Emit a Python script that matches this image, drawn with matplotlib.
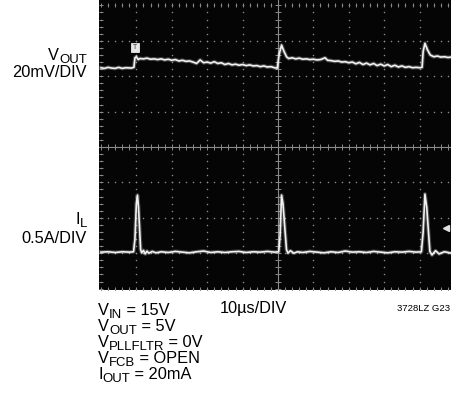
import matplotlib as mpl
import matplotlib.pyplot as plt
import numpy as np
from matplotlib.patches import Rectangle
from matplotlib.transforms import IdentityTransform

mpl.rcParams['font.family'] = ['Liberation Sans', 'DejaVu Sans']

# scope traces, in divisions (10 div across, 8 div up)
vout_t = [0.00, 0.10, 0.20, 0.30, 0.40, 0.50, 0.60, 0.70, 0.85, 0.93, 0.96, 1.00, 1.05, 1.10,
          1.20, 1.30, 1.40, 1.50, 1.60, 1.70, 1.80, 1.90, 2.00, 2.10, 2.20, 2.30, 2.40, 2.50,
          2.60, 2.70, 2.80, 2.90, 3.00, 3.10, 3.20, 3.30, 3.40, 3.50, 3.60, 3.70, 3.80, 3.90,
          4.00, 4.10, 4.20, 4.30, 4.40, 4.50, 4.60, 4.70, 4.80, 4.90, 4.98,
          5.03, 5.10, 5.17, 5.24, 5.30, 5.40, 5.50, 5.60, 5.70, 5.80, 5.90, 6.00, 6.10, 6.20,
          6.33, 6.40, 6.50, 6.60, 6.70, 6.80, 6.90, 7.00, 7.10, 7.20, 7.30, 7.40, 7.50, 7.60,
          7.70, 7.80, 7.90, 8.00, 8.10, 8.20, 8.30, 8.40, 8.50, 8.60, 8.70, 8.80, 8.90, 9.00,
          9.07, 9.10, 9.15, 9.22, 9.30, 9.40, 9.50, 9.60, 9.70, 9.80, 9.90, 10.10]
vout_v = [2.24, 2.22, 2.25, 2.23, 2.22, 2.25, 2.22, 2.24, 2.23, 2.25, 2.52, 2.55, 2.47, 2.50,
          2.49, 2.51, 2.48, 2.49, 2.47, 2.49, 2.46, 2.48, 2.45, 2.47, 2.43, 2.45, 2.42, 2.43,
          2.40, 2.36, 2.46, 2.38, 2.40, 2.37, 2.41, 2.36, 2.38, 2.33, 2.36, 2.32, 2.34, 2.31,
          2.33, 2.30, 2.32, 2.29, 2.30, 2.27, 2.29, 2.26, 2.27, 2.24, 2.23,
          2.60, 2.88, 2.70, 2.55, 2.50, 2.52, 2.49, 2.51, 2.48, 2.49, 2.47, 2.48, 2.46, 2.47,
          2.52, 2.45, 2.44, 2.42, 2.43, 2.40, 2.41, 2.38, 2.40, 2.35, 2.39, 2.33, 2.37, 2.32,
          2.36, 2.30, 2.34, 2.29, 2.33, 2.27, 2.31, 2.26, 2.29, 2.25, 2.27, 2.24, 2.25, 2.24,
          2.25, 2.70, 2.93, 2.75, 2.60, 2.55, 2.57, 2.54, 2.55, 2.53, 2.54, 2.54]

il_t = [0.00, 0.20, 0.40, 0.60, 0.80, 0.92, 0.96, 1.00, 1.03, 1.06, 1.12, 1.15, 1.20, 1.25,
        1.30, 1.35, 1.45, 1.55, 1.70, 1.90, 2.10, 2.30, 2.50, 2.70, 2.90, 3.10, 3.30, 3.50,
        3.70, 3.90, 4.10, 4.30, 4.50, 4.70, 4.90, 5.02,
        5.06, 5.10, 5.14, 5.24, 5.28, 5.35, 5.45, 5.55, 5.70, 5.90, 6.10, 6.30, 6.50, 6.70,
        6.90, 7.10, 7.30, 7.50, 7.70, 7.90, 8.10, 8.30, 8.50, 8.70, 8.90, 9.05,
        9.10, 9.15, 9.20, 9.29, 9.35, 9.45, 9.55, 9.70, 9.90, 10.10]
il_v = [-2.97, -2.96, -2.98, -2.96, -2.97, -2.96, -2.60, -1.60, -1.36, -1.70, -2.90, -2.99, -2.92, -3.02,
        -2.94, -3.00, -2.95, -2.99, -2.96, -2.98, -2.95, -2.97, -2.99, -2.96, -2.94, -2.98, -2.96, -2.98,
        -2.96, -2.95, -2.98, -2.96, -2.97, -2.95, -2.97, -2.96,
        -2.50, -1.36, -1.60, -2.90, -3.00, -2.93, -3.00, -2.96, -2.98, -2.95, -2.97, -2.99, -2.96, -2.98,
        -2.94, -2.97, -2.96, -2.98, -2.95, -2.97, -2.99, -2.96, -2.97, -2.95, -2.97, -2.96,
        -2.40, -1.33, -1.70, -2.95, -3.05, -2.93, -3.02, -2.96, -3.00, -2.97]

trig_t, trig_v = 0.96, 2.81      # trigger flag
gnd_t, gnd_v = 9.75, -2.29       # channel marker

fig = plt.figure(figsize=(4.51, 4.08), dpi=100)
fig.set_facecolor("white")
ax = fig.add_axes([0.2195, 0.2892, 0.8004, 0.7108])
ax.set_facecolor("#050505")
ax.set_xlim(-0.056, 10.14)
ax.set_ylim(-4.04, 4.153)
ax.set_xticks([])
ax.set_yticks([])
for s in ax.spines.values():
    s.set_visible(False)

grid_c = "#8a8a8a"
xs = np.arange(0, 10.01, 0.2)
ys = np.arange(-4, 4.01, 0.2)
# dotted division lines
for gx in range(0, 11):
    if gx == 5:
        continue
    ax.plot([gx] * len(ys), ys, ls="none", marker="o", ms=1.1, mew=0, color=grid_c)
for gy in range(-4, 5):
    if gy == 0:
        continue
    ax.plot(xs, [gy] * len(xs), ls="none", marker="o", ms=1.1, mew=0, color=grid_c)
# centre cross with minor ticks
ax.axvline(5, color=grid_c, lw=0.8)
ax.axhline(0, color=grid_c, lw=0.8)
ax.plot(xs, [0] * len(xs), ls="none", marker="|", ms=4, mew=0.7, color=grid_c)
ax.plot([5] * len(ys), ys, ls="none", marker="_", ms=4, mew=0.7, color=grid_c)
# edge ticks
ax.plot([0] * len(ys), ys, ls="none", marker="_", ms=3, mew=0.7, color=grid_c)
ax.plot(xs, [4] * len(xs), ls="none", marker="|", ms=3, mew=0.7, color=grid_c)
ax.plot(xs, [-4] * len(xs), ls="none", marker="|", ms=3, mew=0.7, color=grid_c)

# traces with a bit of phosphor glow
for t, v in ((vout_t, vout_v), (il_t, il_v)):
    ax.plot(t, v, color="white", lw=2.8, alpha=0.25, solid_joinstyle="round")
    ax.plot(t, v, color="#f2f2f2", lw=1.2, solid_joinstyle="round")

ax.add_patch(Rectangle((trig_t - 0.11, trig_v - 0.13), 0.22, 0.26, facecolor="#e6e6e6",
                       edgecolor="white", lw=0.5, zorder=5))
ax.text(trig_t, trig_v, "T", fontsize=5, color="#333333", ha="center", va="center", zorder=6)
ax.plot(gnd_t, gnd_v, marker="<", ms=4, color="#e0e0e0", ls="none")

# labels with full-size-ish subscripts, placed in pixels from the top-left corner
fs = 11.8
H = 408
renderer = fig.canvas.get_renderer()


def label(x, y, parts, right=False, size=fs):
    # parts: list of (string, is_subscript)
    items = []
    total = 0
    for s, sub in parts:
        t = fig.text(0, 0, s, fontsize=size * 0.8 if sub else size, transform=IdentityTransform(),
                     ha="left", va="baseline")
        w = t.get_window_extent(renderer).width
        items.append((t, sub, w))
        total += w
    cx = x - total if right else x
    for t, sub, w in items:
        t.set_position((cx, H - y - (3 if sub else 0)))
        cx += w


label(87, 60, [("V", False), ("OUT", True)], right=True)
label(87, 77, [("20mV/DIV", False)], right=True)
label(87, 224, [("I", False), ("L", True)], right=True)
label(87, 243, [("0.5A/DIV", False)], right=True)

conds = [("IN", " = 15V"), ("OUT", " = 5V"), ("PLLFLTR", " = 0V"), ("FCB", " = OPEN")]
for i, (sub, rest) in enumerate(conds):
    label(98, 315 + 16 * i, [("V", False), (sub, True), (rest, False)])
label(98, 379, [("I", False), ("OUT", True), (" = 20mA", False)])
label(220, 313, [("10µs/DIV", False)])
label(397, 311, [("3728LZ G23", False)], size=6.8)

fig.savefig("out.png", dpi=100)
